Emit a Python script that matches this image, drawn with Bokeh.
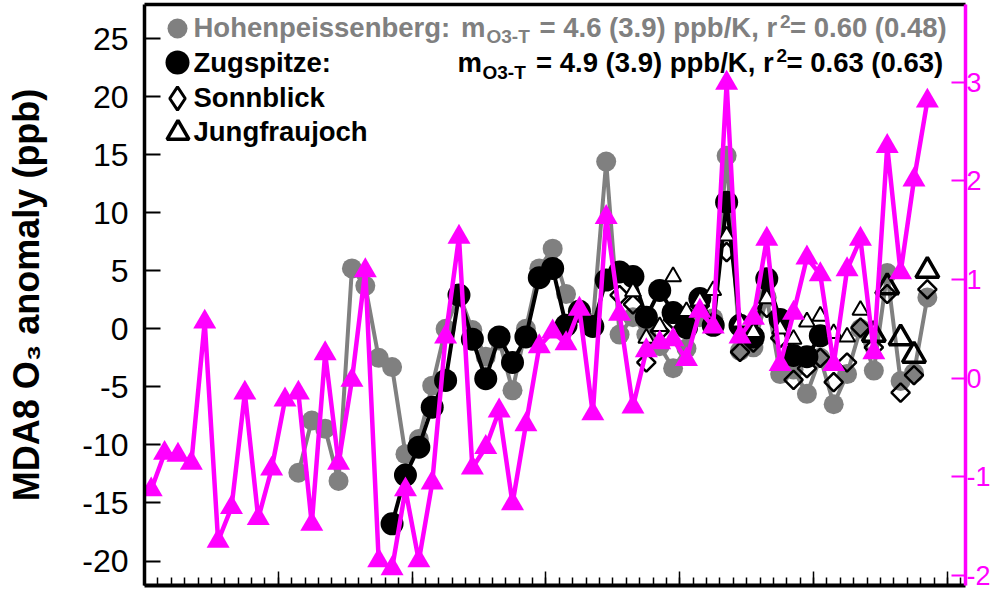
import math
from bokeh.plotting import figure
from bokeh.models import (Range1d, LinearAxis, SingleIntervalTicker, FixedTicker,
                          Legend, LegendItem, Label, CustomJSTickFormatter)
from bokeh.core.properties import value
from bokeh.embed import file_html
from bokeh.resources import INLINE

# ---------------- data ----------------
temperature_start = 1960
temperature_anomaly = [
    -1.13, -0.76, -0.78, -0.86, 0.57, -1.65, -1.31, -0.15, -1.42, -0.92,
    -0.22, -0.15, -1.48, 0.25, -0.86, -0.02, 1.09, -1.85, -1.93, -1.13,
    -1.85, -1.06, 0.42, 1.43, -0.91, -0.70, -0.33, -1.27, -0.47, 0.32,
    0.47, 0.35, 0.70, -0.36, 1.63, 0.65, -0.29, 0.28, 0.36, 0.39,
    0.19, 0.68, 0.52, 2.99, 0.42, 0.61, 1.41, 0.14, 0.66, 1.22,
    1.05, 0.14, 1.10, 1.41, 0.26, 2.35, 1.07, 2.01, 2.81]

hohenpeissenberg_start = 1971
hohenpeissenberg = [
    -12.4, -7.9, -8.6, -13.1, 5.2, 3.7, -2.5, -3.3, -10.8, -9.5,
    -4.9, 0.0, 3.0, -0.1, -2.4, -1.0, -5.3, 0.0, 5.2, 6.9,
    3.0, 1.5, 0.5, 14.4, -0.5, 1.0, -0.5, -1.5, -3.4, -1.7,
    1.0, 0.9, 14.9, -1.9, -1.6, 2.7, -3.9, -3.5, -5.6, -2.5,
    -6.5, -3.9, 0.0, -3.6, 4.8, -4.5, -3.8, 2.7]

zugspitze_start = 1978
zugspitze = [
    -16.8, -12.6, -10.2, -6.75, -4.45, 2.9, -0.9, -4.3, -0.7, -2.9,
    -0.7, 4.4, 5.2, 0.3, 1.5, 0.2, 4.2, 4.9, 4.5, 1.0,
    3.3, 1.4, 0.1, 2.6, 0.3, 10.9, 0.3, -0.7, 4.3, 0.8,
    -2.3, -2.4, -0.6]

sonnblick_start = 1995
sonnblick = [
    2.9, 2.1, -2.9, -0.2, 0.8, 1.2, 2.0, 0.6, 6.6, -2.0,
    -1.2, 1.8, -0.8, -4.4, -3.4, -2.5, -4.6, -2.9, 0.1, -1.6,
    3.0, -5.5, -4.0, 3.4]

jungfraujoch_start = 1996
jungfraujoch = [
    3.2, -0.8, 0.2, 4.5, 1.5, 2.4, 3.3, 8.0, 0.6, -0.3,
    2.6, 0.0, -0.9, 0.6, 1.1, -0.4, -0.7, 1.6]

jungfraujoch_recent_start = 2014
jungfraujoch_recent = [-0.5, 3.6, -0.8, -2.3, 5.0]

legend_names = ["Hohenpeissenberg:", "Zugspitze:", "Sonnblick", "Jungfraujoch"]
stats_hpb = ["m", "O3-T", "= 4.6 (3.9) ppb/K, r", "2", "= 0.60 (0.48)"]
stats_zug = ["m", "O3-T", "= 4.9 (3.9) ppb/K, r", "2", "= 0.63 (0.63)"]


def mid_years(start, values):
    return [start + k + 0.5 for k in range(len(values))]


# ---------------- styling / layout ----------------
MAGENTA = "#FF00FF"
GRAY = "#808080"
FONT = "Liberation Sans"

X0, X1 = 1960.0, 2021.35
Y0, Y1 = -22.11, 27.93
T0, T1 = -2.101, 3.787
FL, FR, FT, FB = 144, 965, 4, 585     # frame edges in pixels
W, H = 998, 591


def px2x(px):
    return X0 + (px - FL) * (X1 - X0) / (FR - FL)


def py2y(py):
    return Y1 - (py - FT) * (Y1 - Y0) / (FB - FT)


p = figure(width=W, height=H, x_range=Range1d(X0, X1), y_range=Range1d(Y0, Y1),
           output_backend="svg", toolbar_location=None,
           x_axis_location=None, y_axis_location=None,
           min_border_left=FL, min_border_right=W - FR,
           min_border_top=FT, min_border_bottom=H - FB)
p.extra_y_ranges = {"temp": Range1d(T0, T1)}
p.grid.visible = False
p.outline_line_color = None
p.background_fill_color = "white"
p.border_fill_color = "white"

empty = CustomJSTickFormatter(code="return ''")
plain = CustomJSTickFormatter(code="return tick.toString()")

left = LinearAxis(ticker=SingleIntervalTicker(interval=5, num_minor_ticks=0),
                  formatter=plain,
                  axis_label="MDA8 O₃ anomaly (ppb)",
                  axis_label_text_font=FONT, axis_label_text_font_style="bold",
                  axis_label_text_font_size="36px", axis_label_standoff=32,
                  axis_label_text_color="black",
                  major_label_text_font=FONT, major_label_text_font_size="32px",
                  major_label_standoff=16, major_label_text_color="black",
                  axis_line_width=3.5, axis_line_color="black",
                  major_tick_in=16, major_tick_out=0, major_tick_line_width=2,
                  major_tick_line_color="black", minor_tick_line_color=None)
p.add_layout(left, "left")

bottom = LinearAxis(ticker=SingleIntervalTicker(interval=10, num_minor_ticks=10),
                    formatter=empty, major_label_text_font_size="0px",
                    major_label_standoff=0, axis_line_width=4, axis_line_color="black",
                    major_tick_in=14, major_tick_out=0, minor_tick_in=8, minor_tick_out=0,
                    major_tick_line_width=1.5, minor_tick_line_width=1.5,
                    major_tick_line_color="black", minor_tick_line_color="black")
p.add_layout(bottom, "below")

right = LinearAxis(y_range_name="temp",
                   ticker=SingleIntervalTicker(interval=1, num_minor_ticks=0),
                   formatter=plain, major_label_text_font=FONT,
                   major_label_text_font_size="27px", major_label_text_color=MAGENTA,
                   major_label_standoff=1, axis_line_color=MAGENTA, axis_line_width=3.5,
                   major_tick_in=14, major_tick_out=0, major_tick_line_color=MAGENTA,
                   major_tick_line_width=2, minor_tick_line_color=None)
p.add_layout(right, "right")

top = LinearAxis(ticker=FixedTicker(ticks=[], minor_ticks=[]), formatter=empty,
                 major_label_text_font_size="0px", major_label_standoff=0,
                 axis_line_width=3.5, axis_line_color="black",
                 major_tick_in=0, major_tick_out=0, minor_tick_line_color=None)
p.add_layout(top, "above")

# ---------------- series ----------------
hx = mid_years(hohenpeissenberg_start, hohenpeissenberg)
p.line(hx, hohenpeissenberg, line_color=GRAY, line_width=4)
r_hpb = p.scatter(hx, hohenpeissenberg, marker="circle", size=20,
                  fill_color=GRAY, line_color=None)

zx = mid_years(zugspitze_start, zugspitze)
p.line(zx, zugspitze, line_color="black", line_width=4)
r_zug = p.scatter(zx, zugspitze, marker="circle", size=23,
                  fill_color="black", line_color=None)

sx = mid_years(sonnblick_start, sonnblick)
p.scatter(sx, sonnblick, marker="square", angle=math.pi / 4, size=13,
          fill_color=None, line_color="black", line_width=2.5)
# legend key only (legend keys are drawn unrotated, so use the diamond marker);
# its single point is NaN, so nothing is drawn in the plot area
r_son_key = p.scatter(x=[math.nan], y=[math.nan], marker="diamond", size=13,
                      fill_color=None, line_color="black", line_width=3)

jx = mid_years(jungfraujoch_start, jungfraujoch)
p.scatter(jx, jungfraujoch, marker="triangle", size=16,
          fill_color="white", line_color="black", line_width=2)
jrx = mid_years(jungfraujoch_recent_start, jungfraujoch_recent)
r_jfj = p.scatter(jrx, jungfraujoch_recent, marker="triangle", size=23,
                  fill_color=None, line_color="black", line_width=3.5)

tx = mid_years(temperature_start, temperature_anomaly)
p.line(tx, temperature_anomaly, y_range_name="temp", line_color=MAGENTA, line_width=4.5)
p.scatter(tx, temperature_anomaly, y_range_name="temp", marker="triangle", size=23,
          fill_color=MAGENTA, line_color=None)


# ---------------- legend keys (one Legend per key) ----------------
def key(renderer, glyph, cx, cy):
    x1 = cx - glyph / 2.0
    bot = cy + glyph / 2.0
    leg = Legend(items=[LegendItem(label=value(""), renderers=[renderer])],
                 location=(x1 - FL, FB - bot),
                 glyph_width=glyph, glyph_height=glyph, label_standoff=0,
                 label_width=0, label_height=0,
                 padding=0, margin=0, spacing=0,
                 border_line_color=None, background_fill_alpha=0,
                 label_text_font=FONT, label_text_font_size="10px")
    p.add_layout(leg)


key(r_hpb, 50, 177, 27.5)
key(r_zug, 60, 177, 62)
key(r_son_key, 58, 177, 97.5)
key(r_jfj, 55, 177, 132)


def text(s, px, py, color, size="27.5px"):
    p.add_layout(Label(x=px2x(px), y=py2y(py), text=s, text_font=FONT,
                       text_font_style="bold", text_font_size=size, text_color=color,
                       text_align="left", text_baseline="middle"))


# legend names
for s, py, col in zip(legend_names, [27.4, 61.9, 97.4, 131.1],
                      [GRAY, "black", "black", "black"]):
    text(s, 193, py, col)

# statistics, with sub- and superscripts as smaller texts
line1 = [(460.5, 27.4, "27.5px"), (486, 36.3, "19px"), (539, 27.4, "27.5px"),
         (779.5, 21, "19px"), (789.5, 27.4, "27.5px")]
for s, (px, py, fs) in zip(stats_hpb, line1):
    text(s, px, py, GRAY, fs)

line2 = [(457, 61.9, "27.5px"), (482, 71.5, "19px"), (535.5, 61.9, "27.5px"),
         (776, 54.5, "19px"), (786, 61.9, "27.5px")]
for s, (px, py, fs) in zip(stats_zug, line2):
    text(s, px, py, "black", fs)

open("out.html", "w").write(file_html(p, INLINE))
